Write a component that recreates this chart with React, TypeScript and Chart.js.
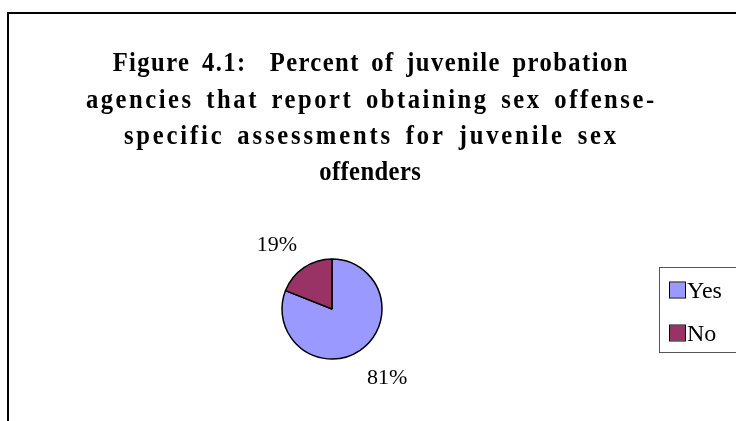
import React, { useEffect, useRef } from "react";
import { Chart, registerables } from "chart.js";

Chart.register(...registerables);

const categories = ["Yes", "No"];
const values = [81, 19];
const colors = ["#9999FF", "#993366"];
const titleLines = [
  "Figure 4.1:  Percent of juvenile probation",
  "agencies that report obtaining sex offense-",
  "specific assessments for juvenile sex",
  "offenders",
];

const SERIF = "'Liberation Serif', 'Times New Roman', serif";
const titleLetterSpacing = [1.6, 2.87, 3.2, 0.43];
const titleY = [64, 101, 137, 173];
const titleScaleX = 0.88;

const decorPlugin = {
  id: "decor",
  afterDraw(chart: any) {
    const ctx = chart.ctx as any;
    ctx.save();
    // frame (left and top edges)
    ctx.strokeStyle = "#000";
    ctx.lineWidth = 2;
    ctx.beginPath();
    ctx.moveTo(8, 440);
    ctx.lineTo(8, 13);
    ctx.lineTo(760, 13);
    ctx.stroke();

    // title
    ctx.fillStyle = "#000";
    ctx.font = `bold 28px ${SERIF}`;
    ctx.textAlign = "center";
    ctx.textBaseline = "middle";
    ctx.wordSpacing = "4.5px";
    titleLines.forEach((t, i) => {
      ctx.save();
      ctx.letterSpacing = titleLetterSpacing[i] + "px";
      ctx.translate(370 + (titleLetterSpacing[i] * titleScaleX) / 2, titleY[i]);
      ctx.scale(titleScaleX, 1);
      ctx.fillText(t, 0, 0);
      ctx.restore();
    });
    ctx.letterSpacing = "0px";
    ctx.wordSpacing = "0px";

    // percent labels
    const meta = chart.getDatasetMeta(0);
    const total = values.reduce((a, b) => a + b, 0);
    ctx.font = `22px ${SERIF}`;
    meta.data.forEach((arc: any, i: number) => {
      const mid = (arc.startAngle + arc.endAngle) / 2;
      const dx = Math.cos(mid);
      const dy = Math.sin(mid);
      const label = Math.round((values[i] / total) * 100) + "%";
      const w = ctx.measureText(label).width;
      const r = arc.outerRadius + 25;
      const x = arc.x + dx * r + Math.sign(dx) * w * 0.32;
      const y = arc.y + dy * r + Math.sign(dy) * 4.5 + 3;
      ctx.fillText(label, x, y);
    });

    // legend box
    ctx.strokeStyle = "#555";
    ctx.lineWidth = 1;
    ctx.strokeRect(659.5, 267.5, 100, 85);
    ctx.textAlign = "left";
    ctx.font = `24px ${SERIF}`;
    const legY = [290.5, 333.5];
    categories.forEach((c, i) => {
      ctx.fillStyle = colors[i];
      ctx.fillRect(670, legY[i] - 8, 15, 15);
      ctx.strokeStyle = "#000";
      ctx.lineWidth = 1;
      ctx.strokeRect(669.5, legY[i] - 8.5, 16, 16);
      ctx.fillStyle = "#000";
      ctx.fillText(c, 687, legY[i] + 1);
    });
    ctx.restore();
  },
};

export default function App() {
  const ref = useRef<HTMLCanvasElement>(null);
  useEffect(() => {
    document.body.style.margin = "0";
    const chart = new Chart(ref.current!, {
      type: "pie",
      data: {
        labels: categories,
        datasets: [
          {
            data: values,
            backgroundColor: colors,
            borderColor: "#000",
            borderWidth: 1.5,
          },
        ],
      },
      options: {
        responsive: false,
        animation: false,
        radius: 50,
        layout: { padding: { left: 272, right: 736 - 392, top: 249, bottom: 421 - 369 } },
        plugins: {
          legend: { display: false },
          title: { display: false },
          tooltip: { enabled: false },
        },
      } as any,
      plugins: [decorPlugin],
    });
    return () => chart.destroy();
  }, []);
  return (
    <div style={{ position: "fixed", left: 0, top: 0, width: 736, height: 421, background: "#fff" }}>
      <canvas ref={ref} width={736} height={421} />
    </div>
  );
}
